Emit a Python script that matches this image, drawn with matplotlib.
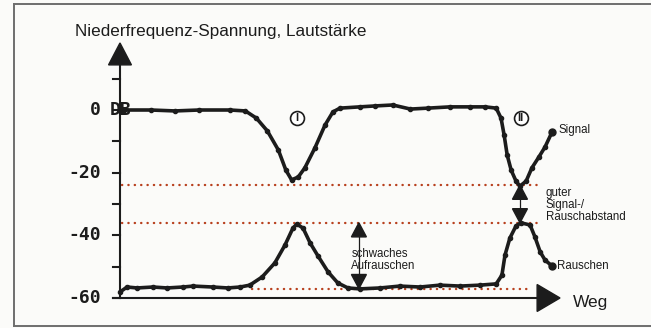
"""
Signal and noise level along the way: NF voltage / loudness in dB.
"""

import matplotlib.pyplot as plt
from matplotlib.patches import Polygon

# ── Data ─────────────────────────────────────────────────────────────────────
weg_signal = [1, 7, 12.5, 18, 25, 28.5, 31, 33.5, 36, 37.7, 39, 40.5, 42,
              44.3, 46.6, 48.4, 50, 54.5, 58, 62, 66, 70, 75, 79.5, 83, 85.5,
              86.6, 87.3, 88, 88.9, 90, 90.9, 92.3, 93.6, 95.2, 96.6, 98.2]
db_signal = [0, 0, -0.3, 0, 0, -0.3, -2.6, -6.7, -12.8, -19.2, -22.3, -21.4,
             -18.5, -12.1, -4.8, -0.6, 0.6, 1.0, 1.3, 1.6, 0.3, 0.6, 1.0, 1.0,
             1.0, 0.6, -2.6, -8, -14.4, -19.2, -22.7, -24.3, -22.7, -18.5,
             -15, -11.8, -7]

weg_noise = [0, 1.6, 3.9, 7.5, 10.7, 14.3, 16.6, 21.1, 24.5, 27.3, 29.5, 32.3,
             35.2, 37.5, 39.3, 40.2, 41.6, 43.2, 45, 47.3, 49.5, 51.8, 54.5,
             59.1, 63.6, 68.2, 72.7, 77.3, 81.8, 85.5, 86.8, 87.5, 88.6, 90,
             91.1, 93.2, 94.3, 95.5, 96.6, 98.2]
db_noise = [-58.1, -56.5, -56.8, -56.5, -56.8, -56.5, -56.2, -56.5, -56.8,
            -56.5, -55.9, -53.3, -48.8, -43.1, -37.7, -36.4, -37.7, -42.4,
            -46.6, -51.7, -55.2, -56.8, -57.1, -56.8, -56.2, -56.5, -55.9,
            -56.2, -55.9, -55.5, -52.7, -46.3, -40.9, -37, -36, -36.7, -40.5,
            -45.3, -47.9, -49.8]

tick_db = [10, 0, -10, -20, -30, -40, -50, -60]
label_db = [0, -20, -40, -60]

# reference levels (dotted): signal dip, noise peak, noise floor
level_signal_dip = -24
level_noise_peak = -36
level_noise_floor = -57

# ── Figure ───────────────────────────────────────────────────────────────────
fig = plt.figure(figsize=(6.51, 3.28), dpi=100)
fig.patch.set_facecolor("#fbfbf9")
ax = fig.add_axes([0, 0, 1, 1])
ax.set_xlim(-27.27, 120.68)
ax.set_ylim(-69.58, 35.11)
ax.axis("off")

# frame of the figure box
frame = dict(color="#6e6e6e", lw=1.4, transform=fig.transFigure)
fig.add_artist(plt.Line2D([0.0215, 0.0215], [0.006, 0.988], **frame))
fig.add_artist(plt.Line2D([0.0215, 1.0], [0.988, 0.988], **frame))
fig.add_artist(plt.Line2D([0.0215, 1.0], [0.006, 0.006], **frame))

ink = "#1c1c1c"
dot_red = "#b8401e"

# axes with arrow heads
ax.plot([0, 0], [-60, 14.4], color=ink, lw=1.5)
ax.plot([-1.6, 94.8], [-60, -60], color=ink, lw=1.5)
ax.add_patch(Polygon([(-2.6, 14.4), (2.6, 14.4), (0, 21.4)], closed=True,
                     color=ink))
ax.add_patch(Polygon([(94.8, -64.3), (94.8, -55.7), (100, -60)], closed=True,
                     color=ink))

for t in tick_db:
    ax.plot([-1.6, 0], [t, t], color=ink, lw=1.5)

mono = dict(family="DejaVu Sans Mono", weight="bold", fontsize=13,
            color=ink, va="center")
for v in label_db:
    ax.text(-4.4, v, f"{v}", ha="right", **mono)
ax.text(-2.3, 0, "DB", ha="left", **mono)

# dotted reference levels
dots = dict(color=dot_red, lw=1.7, linestyle=(0, (0.1, 2.6)),
            dash_capstyle="round", zorder=1)
ax.plot([0.5, 95.5], [level_signal_dip] * 2, **dots)
ax.plot([0.5, 95.5], [level_noise_peak] * 2, **dots)
ax.plot([30, 92.7], [level_noise_floor] * 2, **dots)

# curves
curve = dict(color=ink, lw=2.6, marker="o", markersize=3.0,
             solid_joinstyle="round", solid_capstyle="round", zorder=3)
ax.plot(weg_signal, db_signal, **curve)
ax.plot(weg_noise, db_noise, **curve)
ax.plot(weg_signal[-1], db_signal[-1], "o", color=ink, markersize=5, zorder=4)
ax.plot(weg_noise[-1], db_noise[-1], "o", color=ink, markersize=5, zorder=4)


def double_arrow(x, y_top, y_bottom, head_w=1.7, head_h=4.5):
    ax.plot([x, x], [y_top - head_h, y_bottom + head_h], color=ink, lw=0.9,
            zorder=4)
    ax.add_patch(Polygon([(x - head_w, y_top - head_h),
                          (x + head_w, y_top - head_h), (x, y_top)],
                         closed=True, color=ink, zorder=4))
    ax.add_patch(Polygon([(x - head_w, y_bottom + head_h),
                          (x + head_w, y_bottom + head_h), (x, y_bottom)],
                         closed=True, color=ink, zorder=4))


double_arrow(90.9, level_signal_dip, level_noise_peak)
double_arrow(54.3, level_noise_peak, level_noise_floor)

# section markers I and II
for x, label in [(40.2, "I"), (91.1, "II")]:
    ax.plot(x, -2.6, "o", markersize=10, markerfacecolor="white",
            markeredgecolor=ink, markeredgewidth=1.2, zorder=3)
    ax.text(x, -2.7, label, ha="center", va="center", fontsize=8,
            weight="bold", family="Liberation Sans", color=ink, zorder=4)

sans = dict(family="Liberation Sans", color=ink)
ax.text(-10.2, 25.1, "Niederfrequenz-Spannung, Lautstärke", fontsize=12.3,
        va="center", ha="left", **sans)
ax.text(102.9, -61.6, "Weg", fontsize=12.5, va="center", ha="left", **sans)
ax.text(99.6, -6.4, "Signal", fontsize=8.3, va="center", ha="left", **sans)
ax.text(99.4, -49.7, "Rauschen", fontsize=8.3, va="center", ha="left", **sans)
ax.text(96.8, -30.2, "guter\nSignal-/\nRauschabstand", fontsize=8.3,
        va="center", ha="left", linespacing=1.0, **sans)
ax.text(52.6, -47.8, "schwaches\nAufrauschen", fontsize=8.3, va="center",
        ha="left", linespacing=1.0, **sans)

fig.savefig("out.png", dpi=100, facecolor=fig.get_facecolor())
